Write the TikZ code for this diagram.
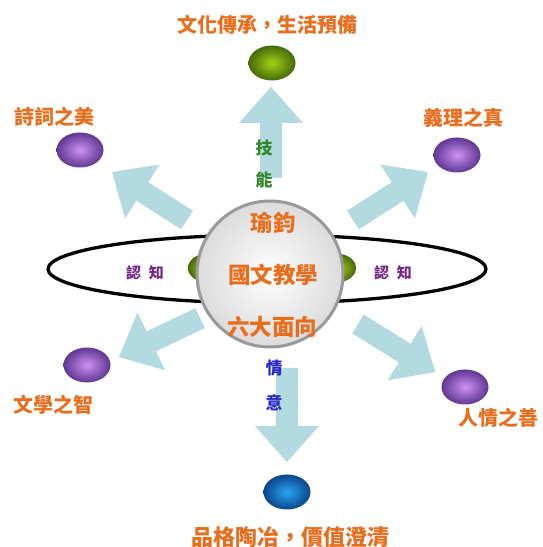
\documentclass[tikz,border=0pt]{standalone}
\usepackage{fontspec}
\newfontfamily\cjk{Noto Sans CJK TC}
\usetikzlibrary{shapes.geometric}
\definecolor{arrowblue}{RGB}{178,218,224}
\definecolor{lblorange}{RGB}{232,110,30}
\definecolor{knowpurple}{RGB}{120,40,140}
\definecolor{skillgreen}{RGB}{50,135,40}
\definecolor{feelblue}{RGB}{40,40,200}
\definecolor{purplelight}{RGB}{205,145,245}
\definecolor{purpledark}{RGB}{95,55,145}
\definecolor{greenlight}{RGB}{160,210,20}
\definecolor{greendark}{RGB}{70,105,10}
\definecolor{bluelight}{RGB}{40,165,240}
\definecolor{bluedark}{RGB}{10,70,140}
\tikzset{
  ball/.style={ellipse, draw=none, minimum width=47pt, minimum height=35pt, inner sep=0pt, shading=radial},
  purpleball/.style={ball, inner color=purplelight, outer color=purpledark},
  lbl/.style={text=lblorange, inner sep=0pt, font=\cjk\bfseries\fontsize{20}{20}\selectfont},
  centerlbl/.style={text=lblorange, inner sep=0pt, font=\cjk\bfseries\fontsize{22.5}{22.5}\selectfont},
  knowlbl/.style={text=knowpurple, inner sep=0pt, font=\cjk\bfseries\fontsize{15}{15}\selectfont},
  vlbl/.style={inner sep=0pt, font=\cjk\bfseries\fontsize{17}{17}\selectfont},
}
\begin{document}
\begin{tikzpicture}[x=1pt,y=1pt]
\useasboundingbox (0,0) rectangle (542,547);
\fill[white] (0,0) rectangle (542,547);
% block arrows
\foreach \px/\py/\ang/\len in {271/369/90/91, 287/179/-90/94, 187/327/147.4/89, 353/327/32.6/89, 200/229/205.7/90, 358/223/-31.9/91}{
  \fill[arrowblue, shift={(\px,\py)}, rotate=\ang]
    (0,-11) -- (\len-36,-11) -- (\len-36,-32) -- (\len,0) -- (\len-36,32) -- (\len-36,11) -- (0,11) -- cycle;
}
% ring
\draw[line width=3.3pt] (267,278) ellipse (219 and 34);
% green bits behind sphere
\node[ellipse, minimum width=36pt, minimum height=28pt, inner sep=0pt, shading=radial, inner color=greenlight, outer color=greendark] (gl) at (206,279) {};
\node[ellipse, minimum width=36pt, minimum height=28pt, inner sep=0pt, shading=radial, inner color=greenlight, outer color=greendark] (gr) at (338,279) {};
% sphere
\node[circle, minimum size=146pt, inner sep=0pt, shading=radial, inner color=white, outer color=black!14, draw=black!40, line width=3pt] (sphere) at (270,273) {};
% balls
\node[ball, inner color=greenlight, outer color=greendark] (btop) at (272,484) {};
\node[ball, inner color=bluelight, outer color=bluedark] (bbot) at (287,55) {};
\node[purpleball] (bul) at (80,397) {};
\node[purpleball] (bur) at (457,392) {};
\node[purpleball] (bll) at (87,182) {};
\node[purpleball] (blr) at (465,160) {};
% labels
\node[lbl] (ttop) at (267,522) {文化傳承，生活預備};
\node[lbl, font=\cjk\bfseries\fontsize{22}{22}\selectfont] (tbot) at (290,10) {品格陶冶，價值澄清};
\node[lbl] (tul) at (55,430) {詩詞之美};
\node[lbl] (tur) at (463,429) {義理之真};
\node[lbl] (tll) at (53,142) {文學之智};
\node[lbl] (tlr) at (498,129) {人情之善};
% center text
\node[centerlbl] (c1) at (273,324) {瑜鈞};
\node[centerlbl] (c2) at (273,272) {國文教學};
\node[centerlbl] (c3) at (272,220) {六大面向};
% cognition
\node[knowlbl] (kl) at (145,274) {認\hspace{8pt}知};
\node[knowlbl] (kr) at (393,274) {認\hspace{8pt}知};
% skill and feeling
\node[vlbl, text=skillgreen] (s1) at (264,399) {技};
\node[vlbl, text=skillgreen] (s2) at (264,367) {能};
\node[vlbl, text=feelblue] (f1) at (274,179) {情};
\node[vlbl, text=feelblue] (f2) at (274,144) {意};
\end{tikzpicture}
\end{document}
